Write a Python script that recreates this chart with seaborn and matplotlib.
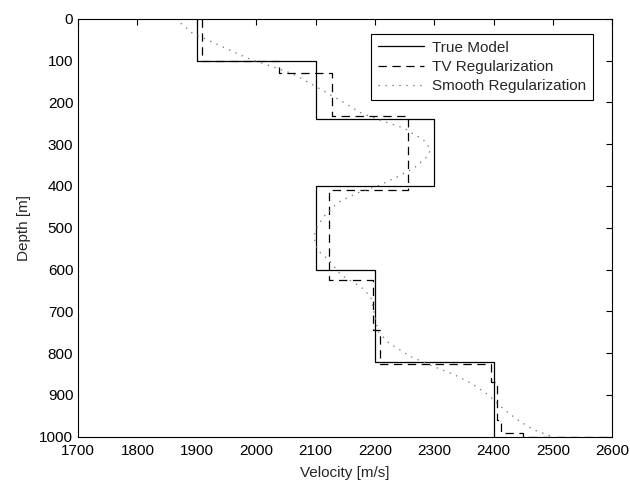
import matplotlib
matplotlib.use("Agg")
import matplotlib.pyplot as plt
import numpy as np
import pandas as pd
import seaborn as sns

# true model: layer tops / bottoms [m] and velocity [m/s]
true_top = [0, 100, 240, 400, 600, 820]
true_bot = [100, 240, 400, 600, 820, 1000]
true_vel = [1900, 2100, 2300, 2100, 2200, 2400]

# TV regularization result (blocky)
tv_top = [0, 100, 131, 233, 409, 624, 745, 825, 870, 960, 990]
tv_bot = [100, 131, 233, 409, 624, 745, 825, 870, 960, 990, 1000]
tv_vel = [1908, 2038, 2127, 2256, 2122, 2196, 2209, 2395, 2405, 2412, 2450]
tv_end_vel = 2600

# smooth regularization result
smooth_depth = [0, 34, 94, 110, 131, 146, 170, 194, 225, 246, 261, 290, 313, 330,
                357, 378, 397, 417, 440, 473, 497, 521, 553, 581, 612, 641, 665,
                700, 749, 775, 808, 832, 851, 871, 899, 935, 959, 983, 1000]
smooth_vel = [1864, 1892, 1985, 2018, 2060, 2080, 2110, 2140, 2176, 2215, 2248, 2282,
              2294, 2288, 2266, 2238, 2210, 2170, 2137, 2114, 2103, 2097, 2103, 2125,
              2142, 2176, 2193, 2198, 2206, 2223, 2260, 2299, 2333, 2361, 2390, 2418,
              2440, 2467, 2500]


def steps(top, bot, vel, end_vel=None):
    d, v = [], []
    for t, b, x in zip(top, bot, vel):
        d += [t, b]
        v += [x, x]
    if end_vel is not None:
        d.append(bot[-1])
        v.append(end_vel)
    return pd.DataFrame({'depth': d, 'vel': v})


sns.set_style('white')
plt.rcParams['font.family'] = ['Liberation Sans', 'DejaVu Sans']
plt.rcParams['lines.scale_dashes'] = False

fig = plt.figure(figsize=(6.3, 4.8), dpi=100)
ax = fig.add_axes([0.124, 0.09, 0.848, 0.871])

true_df = steps(true_top, true_bot, true_vel)
tv_df = steps(tv_top, tv_bot, tv_vel, tv_end_vel)
smooth_df = pd.DataFrame({'depth': smooth_depth, 'vel': smooth_vel})

sns.lineplot(data=true_df, x='vel', y='depth', sort=False, estimator=None,
             color='black', lw=0.9, label='True Model', ax=ax)
sns.lineplot(data=tv_df, x='vel', y='depth', sort=False, estimator=None,
             color='black', lw=0.9, linestyle=(0, (6, 4)), label='TV Regularization', ax=ax)
sns.lineplot(data=smooth_df, x='vel', y='depth', sort=False, estimator=None,
             color='#777777', lw=0.9, linestyle=(0, (1, 4)), label='Smooth Regularization', ax=ax)

ax.set_xlim(1700, 2600)
ax.set_ylim(1000, 0)
ax.set_xticks(np.arange(1700, 2601, 100))
ax.set_yticks(np.arange(0, 1001, 100))
ax.tick_params(direction='in', top=True, right=True, length=4, width=0.8,
               labelsize=11, colors='black')
ax.tick_params(axis='x', pad=5)
for s in ax.spines.values():
    s.set_color('black')
    s.set_linewidth(0.8)
ax.set_xlabel('Velocity [m/s]', fontsize=11, labelpad=6)
ax.set_ylabel('Depth [m]', fontsize=11, labelpad=6)

leg = ax.legend(loc='upper right', bbox_to_anchor=(0.963, 0.964), borderaxespad=0,
                fontsize=11, frameon=True, fancybox=False, framealpha=1,
                edgecolor='black', borderpad=0.45, handlelength=3.0,
                labelspacing=0.35, handletextpad=0.5)
leg.get_frame().set_linewidth(0.8)

fig.savefig('out.png', dpi=100)
